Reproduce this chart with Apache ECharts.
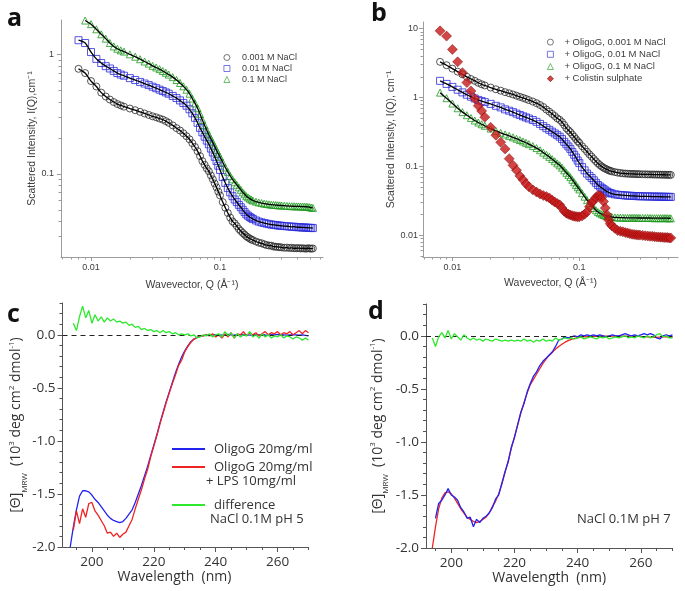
<!DOCTYPE html>
<html><head><meta charset="utf-8">
<script src="https://cdn.jsdelivr.net/npm/echarts@6/dist/echarts.min.js"></script>
<style>html,body{margin:0;padding:0;background:#fff}#c{width:685px;height:591px}</style>
</head><body><div id="c"></div>
<script>
// ---------- Panel a : SAXS, OligoG in NaCl ----------
const qA = [0.008,0.009,0.010,0.011,0.012,0.013,0.014,0.015,0.016,0.017,0.018,
  0.020,0.022,0.024,0.026,0.028,0.030,0.032,0.034,0.036,0.038,0.040,
  0.043,0.046,0.049,0.052,0.055,0.058,0.061,0.064,0.067,0.070,0.073,0.076,0.079,0.082,0.085,0.088,0.091,0.094,0.097,0.100,
  0.105,0.110,0.115,0.120,0.125,0.130,
  0.135,0.140,0.145,0.150,0.155,0.160,0.165,0.170,0.175,0.180,0.190,0.200,0.210,0.220,0.230,0.240,0.250,0.260,0.270,0.280,
  0.290,0.300,0.315,0.330,0.345,0.360,0.375,0.390,0.405,0.420,0.435,0.450,0.465,0.480,0.495,0.510,0.525];
const aNaCl0001 = [0.76,0.70,0.60,0.54,0.48,0.445,0.42,0.40,0.385,0.375,0.366,
  0.353,0.342,0.331,0.321,0.312,0.304,0.298,0.291,0.285,0.277,0.268,
  0.255,0.242,0.231,0.219,0.207,0.195,0.181,0.168,0.155,0.141,0.128,0.119,0.111,0.105,0.097,0.090,0.083,0.077,0.071,0.066,
  0.058,0.052,0.047,0.043,0.040,0.0385,
  0.0365,0.0345,0.0332,0.032,0.031,0.030,0.0293,0.0287,0.0282,0.0278,0.0271,0.0265,0.0262,0.0257,0.0253,0.0251,0.025,0.0246,0.0245,0.0244,
  0.0243,0.0242,0.0240,0.0241,0.0239,0.0240,0.0238,0.0238,0.0239,0.0237,0.0238,0.0237,0.0236,0.0238,0.0237,0.0236,0.0237];
const aNaCl001 = [1.32,1.25,1.05,0.92,0.85,0.80,0.765,0.73,0.70,0.68,0.665,
  0.635,0.612,0.59,0.572,0.555,0.538,0.523,0.508,0.495,0.482,0.470,
  0.450,0.432,0.413,0.393,0.373,0.348,0.322,0.295,0.268,0.243,0.223,0.205,0.19,0.177,0.163,0.151,0.139,0.128,0.117,0.108,
  0.094,0.084,0.076,0.070,0.065,0.061,
  0.058,0.055,0.0525,0.050,0.0478,0.0458,0.0446,0.0435,0.0426,0.0418,0.0407,0.0398,0.0392,0.0387,0.0383,0.0379,0.0376,0.0374,0.0372,0.037,
  0.0368,0.0367,0.0365,0.0364,0.0362,0.036,0.0361,0.0358,0.0357,0.0357,0.0355,0.0356,0.0354,0.0354,0.0352,0.0353,0.0351];
const aNaCl01 = [null,1.93,1.80,1.63,1.48,1.36,1.25,1.17,1.12,1.085,1.06,
  1.005,0.96,0.915,0.875,0.84,0.805,0.78,0.755,0.728,0.705,0.68,
  0.647,0.612,0.578,0.542,0.508,0.47,0.428,0.39,0.355,0.318,0.283,0.255,0.232,0.213,0.197,0.183,0.170,0.158,0.148,0.139,
  0.125,0.113,0.104,0.096,0.090,0.085,
  0.081,0.077,0.0735,0.070,0.0675,0.065,0.0634,0.062,0.0608,0.0598,0.0585,0.0576,0.0569,0.0563,0.0559,0.0555,0.0552,0.055,0.0548,0.0546,
  0.0544,0.0543,0.0541,0.0539,0.0537,0.0536,0.0535,0.0534,0.0534,0.0533,0.0532,0.0531,0.053,0.0528,0.0525,0.0522,0.0518];

// ---------- Panel b : SAXS, LPS + OligoG / Colistin ----------
const qB = [0.008,0.009,0.010,0.011,0.012,0.013,0.014,0.015,0.016,0.017,0.018,
  0.020,0.022,0.024,0.026,0.028,0.030,0.032,0.034,0.036,0.038,0.040,
  0.043,0.046,0.049,0.052,0.055,0.058,0.061,0.064,0.067,0.070,0.073,0.076,0.079,0.082,0.085,0.088,0.091,0.094,0.097,0.100,
  0.105,0.110,0.115,0.120,0.125,0.130,
  0.135,0.140,0.145,0.150,0.155,0.160,0.165,0.170,0.175,0.180,0.190,0.200,0.210,0.220,0.230,0.240,0.250,0.260,0.270,0.280,
  0.290,0.300,0.315,0.330,0.345,0.360,0.375,0.390,0.405,0.420,0.435,0.450,0.465,0.480,0.495,0.510,0.525];
const bNaCl0001 = [3.3,2.95,2.63,2.38,2.17,2.0,1.86,1.75,1.64,1.56,1.50,
  1.40,1.32,1.26,1.20,1.155,1.11,1.065,1.025,0.99,0.955,0.92,
  0.875,0.83,0.78,0.73,0.67,0.625,0.58,0.54,0.50,0.475,0.44,0.40,0.36,0.335,0.315,0.29,0.27,0.25,0.233,0.22,
  0.197,0.18,0.164,0.15,0.139,0.128,
  0.119,0.111,0.105,0.10,0.096,0.093,0.0905,0.088,0.0865,0.085,0.083,0.0815,0.0804,0.0795,0.079,0.0785,0.0782,0.078,0.0778,0.0776,
  0.0774,0.0773,0.0771,0.0769,0.0768,0.0766,0.0765,0.0764,0.0763,0.0762,0.0761,0.076,0.0759,0.0758,0.0757,0.0756,0.0755];
const bNaCl001 = [1.75,1.58,1.43,1.30,1.19,1.10,1.03,0.97,0.925,0.89,0.86,
  0.81,0.76,0.72,0.675,0.645,0.615,0.585,0.558,0.535,0.515,0.497,
  0.472,0.445,0.415,0.385,0.36,0.34,0.32,0.302,0.285,0.27,0.25,0.228,0.21,0.195,0.18,0.163,0.148,0.135,0.122,0.112,
  0.098,0.088,0.079,0.073,0.068,0.063,
  0.058,0.054,0.0513,0.049,0.047,0.045,0.0433,0.042,0.0412,0.0405,0.0395,0.0389,0.0386,0.0383,0.038,0.0378,0.0376,0.0375,0.0373,0.0372,
  0.0371,0.037,0.0369,0.0368,0.0368,0.0367,0.0366,0.0366,0.0365,0.0365,0.0364,0.0364,0.0363,0.0363,0.0362,0.0362,0.0362];
const bNaCl01 = [1.18,0.98,0.82,0.70,0.615,0.555,0.505,0.465,0.435,0.41,0.39,
  0.355,0.328,0.308,0.292,0.278,0.265,0.253,0.242,0.231,0.221,0.211,
  0.198,0.185,0.172,0.159,0.148,0.138,0.128,0.119,0.111,0.104,0.096,0.088,0.081,0.075,0.070,0.064,0.059,0.054,0.050,0.0465,
  0.041,0.0365,0.0325,0.0295,0.027,0.025,
  0.0232,0.0218,0.021,0.0203,0.0198,0.0194,0.0191,0.0188,0.0186,0.0185,0.0183,0.0182,0.0181,0.0181,0.018,0.018,0.018,0.018,0.018,0.018,
  0.0179,0.0179,0.0179,0.0179,0.0179,0.0179,0.0178,0.0178,0.0178,0.0178,0.0178,0.0178,0.0178,0.0178,0.0178,0.0177,0.0177];
const bColistin = [9.3,7.8,5.0,3.3,2.3,1.65,1.25,0.97,0.76,0.64,0.52,
  0.37,0.285,0.225,0.18,0.13,0.104,0.088,0.073,0.064,0.056,0.051,
  0.0458,0.0425,0.040,0.038,0.0366,0.035,0.0325,0.0305,0.029,0.0278,0.025,0.0225,0.021,0.0203,0.0198,0.0193,0.019,0.0188,0.0186,0.0186,
  0.0192,0.0203,0.022,0.026,0.030,0.032,
  0.0355,0.038,0.038,0.0355,0.031,0.025,0.020,0.0167,0.0148,0.0138,0.0127,0.0118,0.0115,0.0113,0.011,0.0108,0.0106,0.0104,0.0103,0.0102,
  0.0101,0.0101,0.01,0.0099,0.0098,0.0097,0.0097,0.0096,0.0095,0.0095,0.0094,0.0094,0.0093,0.0093,0.0093,0.0092,0.0092];

// ---------- Panels c, d : CD spectra ----------
const wl = [193,194,195,196,197,198,199,200,201,202,203,204,205,206,207,208,209,210,
  211,212,213,214,215,216,217,218,219,220,221,222,223,224,225,226,227,228,229,230,
  231,232,233,234,235,236,237,238,239,240,241,242,243,244,245,246,247,248,249,250,
  251,252,253,254,255,256,257,258,259,260,261,262,263,264,265,266,267,268,269,270];
const cOligo = [-2.0,-1.81,-1.65,-1.52,-1.47,-1.47,-1.48,-1.51,-1.55,-1.58,-1.62,-1.66,-1.70,-1.73,-1.75,-1.76,-1.77,-1.76,
  -1.73,-1.69,-1.65,-1.58,-1.50,-1.42,-1.33,-1.24,-1.14,-1.04,-0.94,-0.83,-0.73,-0.63,-0.54,-0.45,-0.36,-0.28,-0.21,-0.15,
  -0.105,-0.065,-0.04,-0.025,-0.015,-0.008,-0.004,-0.002,0,0.002,0,-0.003,0,0.003,0,-0.002,0.002,0,0.003,0,
  -0.002,0,0.002,0,0.003,0,-0.002,0.002,0,0.003,0.002,0,-0.002,0,0.002,0,-0.003,0,-0.005,-0.01];
const cOligoLps = [null,-1.84,-1.66,-1.78,-1.64,-1.72,-1.59,-1.58,-1.66,-1.70,-1.75,-1.80,-1.87,-1.86,-1.90,-1.87,-1.91,-1.88,
  -1.86,-1.80,-1.74,-1.64,-1.55,-1.46,-1.36,-1.27,-1.15,-1.05,-0.95,-0.84,-0.74,-0.64,-0.55,-0.46,-0.38,-0.29,-0.24,-0.16,
  -0.11,-0.07,-0.04,-0.025,-0.01,-0.01,0.0,-0.01,0.01,-0.02,0.0,-0.03,0.01,-0.02,0.02,-0.03,0.01,0.0,0.03,-0.01,
  0.02,0.0,0.02,-0.01,0.01,0.03,0.0,0.02,0.01,0.03,0.0,0.02,0.01,0.03,0.0,0.02,0.04,0.01,0.04,0.02];
const cDiff = [null,0.11,0.04,0.17,0.27,0.16,0.23,0.11,0.19,0.13,0.17,0.12,0.16,0.13,0.15,0.12,0.13,0.11,
  0.12,0.09,0.10,0.07,0.08,0.05,0.06,0.04,0.05,0.03,0.04,0.02,0.04,0.02,0.03,0.01,0.02,0.0,0.01,0.0,
  0.01,-0.01,0.0,-0.03,-0.02,0.0,-0.01,0.01,-0.02,0.0,0.01,-0.02,0.03,-0.01,0.02,-0.03,0.01,-0.02,0.0,-0.01,
  0.03,-0.02,0.0,-0.03,0.01,-0.02,0.0,-0.03,-0.01,-0.02,0.0,-0.03,-0.01,-0.02,-0.04,-0.02,-0.03,-0.05,-0.03,-0.05];
const dOligo = [null,null,-1.72,-1.58,-1.55,-1.50,-1.44,-1.50,-1.52,-1.55,-1.62,-1.66,-1.72,-1.71,-1.80,-1.73,-1.76,-1.72,
  -1.70,-1.67,-1.62,-1.54,-1.50,-1.39,-1.28,-1.19,-1.05,-0.96,-0.84,-0.72,-0.64,-0.53,-0.45,-0.38,-0.34,-0.28,-0.24,-0.21,
  -0.18,-0.15,-0.10,-0.04,-0.03,-0.01,-0.02,-0.01,0.0,-0.01,0.01,0.0,0.01,0.0,0.01,0.0,0.01,0.0,-0.01,0.0,
  0.01,0.0,0.0,0.01,0.02,0.01,0.0,0.01,0.0,0.01,0.02,0.01,0.02,0.01,-0.02,-0.03,0.0,0.01,0.0,0.01];
const dOligoLps = [null,-2.0,-1.80,-1.63,-1.53,-1.48,-1.47,-1.49,-1.53,-1.58,-1.63,-1.67,-1.71,-1.73,-1.75,-1.76,-1.75,-1.73,
  -1.71,-1.67,-1.61,-1.56,-1.49,-1.40,-1.29,-1.18,-1.06,-0.95,-0.84,-0.73,-0.63,-0.54,-0.46,-0.41,-0.36,-0.31,-0.26,-0.22,
  -0.185,-0.155,-0.125,-0.10,-0.08,-0.06,-0.045,-0.033,-0.025,-0.018,-0.013,-0.01,-0.008,-0.006,-0.005,-0.005,-0.004,-0.004,-0.003,-0.003,
  -0.003,-0.002,-0.002,-0.002,-0.002,-0.003,-0.004,-0.005,-0.006,-0.007,-0.008,-0.01,-0.012,-0.015,-0.015,-0.012,-0.01,-0.01,-0.012,-0.015];
const dDiff = [null,-0.02,-0.10,-0.01,0.03,-0.02,0.05,-0.03,0.02,-0.01,-0.04,0.01,-0.02,-0.04,-0.02,-0.04,-0.03,-0.05,
  -0.03,-0.04,-0.05,-0.03,-0.04,-0.05,-0.04,-0.05,-0.04,-0.05,-0.04,-0.05,-0.03,-0.05,-0.04,-0.06,-0.04,-0.05,-0.03,-0.05,
  -0.04,-0.05,-0.02,-0.04,-0.03,-0.02,-0.03,-0.02,-0.03,-0.02,-0.01,-0.03,-0.02,-0.01,-0.02,-0.03,-0.01,-0.02,-0.01,-0.03,
  -0.02,-0.01,-0.02,-0.01,0.0,-0.02,-0.01,-0.02,0.0,-0.01,-0.02,0.0,-0.02,-0.01,0.01,0.02,-0.01,0.0,-0.02,-0.02];

// ---------- tick values ----------
const qMajor = [0.01, 0.1];
const qMinor = [0.006,0.007,0.008,0.009,0.02,0.03,0.04,0.05,0.06,0.07,0.08,0.09,0.2,0.3,0.4,0.5,0.6];
const aIMajor = [0.1, 1];
const aIMinor = [0.03,0.04,0.05,0.06,0.07,0.08,0.09,0.2,0.3,0.4,0.5,0.6,0.7,0.8,0.9];
const bIMajor = [0.01, 0.1, 1, 10];
const bIMinor = [0.005,0.006,0.007,0.008,0.009,0.02,0.03,0.04,0.05,0.06,0.07,0.08,0.09,0.2,0.3,0.4,0.5,0.6,0.7,0.8,0.9,2,3,4,5,6,7,8,9];
const wlMajor = [200, 220, 240, 260];
const wlMinor = [195,205,210,215,225,230,235,245,250,255,265,270];
const thMajor = [-2.0, -1.5, -1.0, -0.5, 0.0];
const thMinor = [-1.9,-1.8,-1.7,-1.6,-1.4,-1.3,-1.2,-1.1,-0.9,-0.8,-0.7,-0.6,-0.4,-0.3,-0.2,-0.1,0.1,0.2,0.3];

// ---------- helpers ----------
const pairs = (xs, ys) => xs.map((x, i) => [x, ys[i]]).filter(p => p[1] !== null && p[1] !== undefined);
const SAXS = {line:'#9c9c9c', text:'#3c3c3c', fs:9, ff:'"Liberation Sans", Arial, sans-serif', majLen:4, minLen:2.5};
const CD = {line:'#555', text:'#333', fs:13.5, ff:'"Open Sans", sans-serif', majLen:5, minLen:3};
const logFmt = v => String(+(+v).toPrecision(3));
const cdFmt = v => (+v).toFixed(1);

function axes(dim, grid, type, min, max, major, minor, st, fmt, margin, name, nameGap, nameStyle) {
  const pos = dim === 'x' ? 'bottom' : 'left';
  const base = {type, gridIndex: grid, min, max, position: pos, offset: 0, splitLine:{show:false}};
  if (type === 'log') base.logBase = 10;
  const maj = Object.assign({}, base, {
    axisLine:{show:true, onZero:false, lineStyle:{color:st.line, width:1}},
    axisTick:{show:true, inside:false, length:st.majLen, customValues:major, lineStyle:{color:st.line, width:1}},
    axisLabel:{show:true, customValues:major, margin, color:st.text, fontSize:st.fs, fontFamily:st.ff, formatter:fmt,
      showMinLabel:true, showMaxLabel:true, hideOverlap:false},
    minorTick:{show:false},
    name, nameLocation:'middle', nameGap, nameRotate: dim === 'y' ? 90 : 0,
    nameTextStyle: nameStyle
  });
  const mnr = Object.assign({}, base, {
    axisLine:{show:false, onZero:false},
    axisTick:{show:true, inside:false, length:st.minLen, customValues:minor, lineStyle:{color:st.line, width:1}},
    axisLabel:{show:false},
    minorTick:{show:false}
  });
  return [maj, mnr];
}

const saxsName = {fontSize:10.5, color:'#3c3c3c', fontFamily:SAXS.ff};
const cdNameX = {fontSize:14, color:'#333', fontFamily:CD.ff};
const cdNameY = {fontSize:14, color:'#333', fontFamily:CD.ff, lineHeight:18,
  rich:{m:{fontSize:14, fontFamily:CD.ff, color:'#333', lineHeight:18},
        s:{fontSize:8, fontFamily:CD.ff, color:'#333', verticalAlign:'bottom', lineHeight:18, padding:[0,0,-3,0]},
        u:{fontSize:8, fontFamily:CD.ff, color:'#333', verticalAlign:'top', lineHeight:18}}};
const cdYName = '{m|[Θ]}{s|MRW}{m|  (10}{u|3}{m| deg cm}{u|2}{m| dmol}{u|-1}{m|)}';

const xA = axes('x', 0, 'log', 0.00585, 0.629, qMajor, qMinor, SAXS, logFmt, 6, 'Wavevector, Q (Å⁻¹)', 23, saxsName);
const yA = axes('y', 0, 'log', 0.0201, 1.95, aIMajor, aIMinor, SAXS, logFmt, 7, 'Scattered Intensity, I(Q),cm⁻¹', 19, saxsName);
const xB = axes('x', 1, 'log', 0.00587, 0.598, qMajor, qMinor, SAXS, logFmt, 6, 'Wavevector, Q (Å⁻¹)', 21, saxsName);
const yB = axes('y', 1, 'log', 0.00486, 12.5, bIMajor, bIMinor, SAXS, logFmt, 5, 'Scattered Intensity, I(Q), cm⁻¹', 19, saxsName);
const xC = axes('x', 2, 'value', 190.5, 270, wlMajor, wlMinor, CD, v => String(v), 8, 'Wavelength  (nm)', 18, Object.assign({padding:[0,22,0,0]}, cdNameX));
const yC = axes('y', 2, 'value', -2.0, 0.3, thMajor, thMinor, CD, cdFmt, 7, cdYName, 37, cdNameY);
const xD = axes('x', 3, 'value', 192, 270, wlMajor, wlMinor, CD, v => String(v), 8, 'Wavelength  (nm)', 18, cdNameX);
const yD = axes('y', 3, 'value', -2.0, 0.3, thMajor, thMinor, CD, cdFmt, 7, cdYName, 39, cdNameY);

const hollow = (c) => ({color:'rgba(0,0,0,0)', borderColor:c, borderWidth:1});
const C_BLK = '#2a2a2a', C_BLU = '#2a2ad8', C_GRN = '#1f9a1f', C_RED = '#c81818';
function sc(name, xi, yi, xs, ys, symbol, size, style, z) {
  return {type:'scatter', name, xAxisIndex:xi, yAxisIndex:yi, data:pairs(xs, ys), symbol, symbolSize:size,
    itemStyle:style, z, silent:true, emphasis:{disabled:true}};
}
function fit(xi, yi, xs, ys) {
  return {type:'line', name:'fit', xAxisIndex:xi, yAxisIndex:yi, data:pairs(xs, ys), showSymbol:false, symbol:'none',
    smooth:0.25, lineStyle:{color:'#000', width:1.3}, z:3, silent:true};
}
function cd(name, xi, yi, ys, color, z, mark) {
  const s = {type:'line', name, xAxisIndex:xi, yAxisIndex:yi, data:pairs(wl, ys), showSymbol:false, symbol:'none',
    lineStyle:{color, width:1.3}, itemStyle:{color}, z, silent:true};
  if (mark) s.markLine = {silent:true, symbol:'none', label:{show:false}, lineStyle:{color:'#222', type:[5,4], width:1},
    data:[{yAxis:0}], animation:false};
  return s;
}
const cdLegendText = {fontSize:13, color:'#333', fontFamily:CD.ff, lineHeight:18, padding:[0,0,0,4]};

const option = {
  animation:false,
  backgroundColor:'#fff',
  textStyle:{fontFamily:SAXS.ff},
  grid:[
    {left:61, top:20, width:262, height:237, outerBoundsMode:'none'},
    {left:423, top:22, width:255, height:235, outerBoundsMode:'none'},
    {left:62.5, top:303, width:246, height:244, outerBoundsMode:'none'},
    {left:426, top:304, width:246.5, height:244, outerBoundsMode:'none'}
  ],
  xAxis:[xA[0], xA[1], xB[0], xB[1], xC[0], xC[1], xD[0], xD[1]],
  yAxis:[yA[0], yA[1], yB[0], yB[1], yC[0], yC[1], yD[0], yD[1]],
  legend:[
    {data:['0.001 M NaCl','0.01 M NaCl','0.1 M NaCl'], orient:'vertical', left:218.5, top:47,
      itemWidth:6, itemHeight:6, itemGap:0, selectedMode:false, itemStyle:{borderWidth:0.8},
      textStyle:{fontSize:9, color:'#3c3c3c', fontFamily:SAXS.ff, lineHeight:11, padding:[0,0,0,7]}},
    {data:['+ OligoG, 0.001 M NaCl','+ OligoG, 0.01 M NaCl','+ OligoG, 0.1 M NaCl','+ Colistin sulphate'], orient:'vertical', left:542, top:31,
      itemWidth:6, itemHeight:6, itemGap:0, selectedMode:false, itemStyle:{borderWidth:0.8},
      textStyle:{fontSize:9.5, color:'#3c3c3c', fontFamily:SAXS.ff, lineHeight:12.2, padding:[0,0,0,6]}},
    {data:['OligoG 20mg/ml','OligoG 20mg/ml + LPS 10mg/ml'], orient:'vertical', left:167, top:435,
      itemWidth:33, itemHeight:2, itemGap:0, selectedMode:false, icon:'rect',
      formatter: n => n.split(' + ')[0], textStyle:cdLegendText},
    {data:['difference'], orient:'vertical', left:167, top:491,
      itemWidth:33, itemHeight:2, selectedMode:false, icon:'rect', textStyle:cdLegendText}
  ],
  graphic:[
    {type:'text', left:7, top:6, style:{text:'a', font:'bold 25px "Open Sans", sans-serif', fill:'#111'}},
    {type:'text', left:371, top:1, style:{text:'b', font:'bold 25px "Open Sans", sans-serif', fill:'#111'}},
    {type:'text', left:7, top:302, style:{text:'c', font:'bold 25px "Open Sans", sans-serif', fill:'#111'}},
    {type:'text', left:368, top:299, style:{text:'d', font:'bold 25px "Open Sans", sans-serif', fill:'#111'}},
    {type:'text', left:206, top:475, style:{text:'+ LPS 10mg/ml', font:'13px "Open Sans", sans-serif', fill:'#333'}},
    {type:'text', left:210, top:513, style:{text:'NaCl 0.1M pH 5', font:'13px "Open Sans", sans-serif', fill:'#333'}},
    {type:'text', left:577, top:513, style:{text:'NaCl 0.1M pH 7', font:'13px "Open Sans", sans-serif', fill:'#333'}}
  ],
  series:[
    // panel a
    sc('0.001 M NaCl', 0, 0, qA, aNaCl0001, 'circle', 7, hollow(C_BLK), 2),
    sc('0.01 M NaCl', 0, 0, qA, aNaCl001, 'rect', 7, hollow(C_BLU), 2),
    sc('0.1 M NaCl', 0, 0, qA, aNaCl01, 'triangle', 7, hollow(C_GRN), 2),
    fit(0, 0, qA, aNaCl0001), fit(0, 0, qA, aNaCl001), fit(0, 0, qA, aNaCl01),
    // panel b
    sc('+ OligoG, 0.001 M NaCl', 2, 2, qB, bNaCl0001, 'circle', 7, hollow(C_BLK), 2),
    sc('+ OligoG, 0.01 M NaCl', 2, 2, qB, bNaCl001, 'rect', 7, hollow(C_BLU), 2),
    sc('+ OligoG, 0.1 M NaCl', 2, 2, qB, bNaCl01, 'triangle', 7, hollow(C_GRN), 2),
    fit(2, 2, qB, bNaCl0001), fit(2, 2, qB, bNaCl001), fit(2, 2, qB, bNaCl01),
    sc('+ Colistin sulphate', 2, 2, qB, bColistin, 'diamond', 10, {color:C_RED, borderColor:'#7a0a0a', borderWidth:0.6}, 4),
    // panel c
    cd('OligoG 20mg/ml', 4, 4, cOligo, '#2323f0', 3, true),
    cd('OligoG 20mg/ml + LPS 10mg/ml', 4, 4, cOligoLps, '#f02323', 4, false),
    cd('difference', 4, 4, cDiff, '#2ee82e', 5, false),
    // panel d
    cd('d OligoG + LPS', 6, 6, dOligoLps, '#f02323', 3, true),
    cd('d OligoG', 6, 6, dOligo, '#2323f0', 4, false),
    cd('d difference', 6, 6, dDiff, '#2ee82e', 5, false)
  ]
};
const chart = echarts.init(document.getElementById('c'), null, {renderer:'canvas'});
chart.setOption(option);
</script>
</body></html>
